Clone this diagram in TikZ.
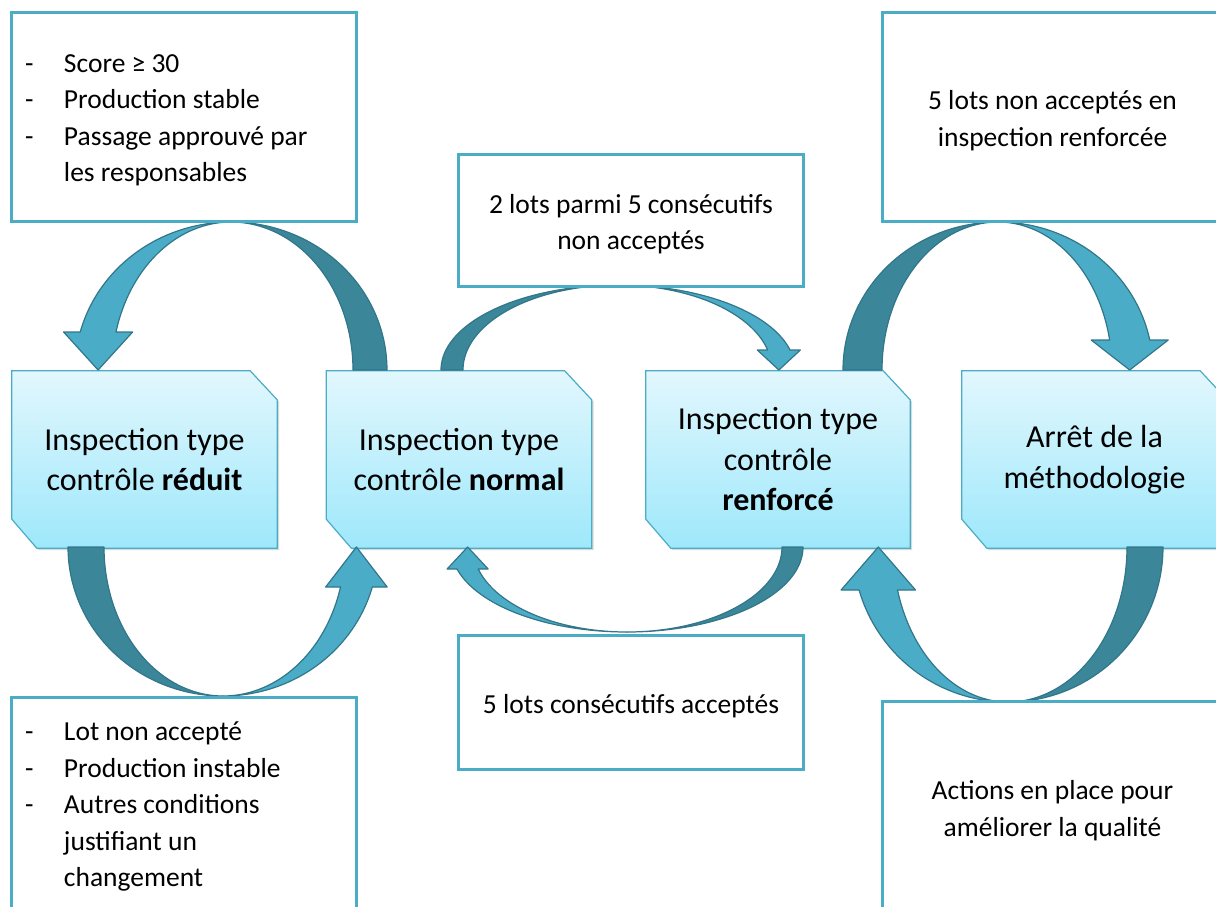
\documentclass[tikz,border=0pt]{standalone}
\usepackage{fontspec}
\setmainfont{Carlito}
\usetikzlibrary{backgrounds,shadows,calc}
\definecolor{acc}{RGB}{75,172,198}
\definecolor{arrlight}{RGB}{74,172,198}
\definecolor{arrdark}{RGB}{59,134,153}
\definecolor{arrline}{RGB}{50,118,138}
\definecolor{boxtop}{RGB}{226,247,253}
\definecolor{boxbot}{RGB}{158,232,251}
\tikzset{
  mainbox/.style={minimum width=265pt, minimum height=177pt, inner sep=0pt, align=center,
    font=\fontsize{32}{40.5}\selectfont},
  snipfill/.style={draw=acc, line width=1.2pt, top color=boxtop, bottom color=boxbot,
    drop shadow={shadow xshift=2pt, shadow yshift=-2pt, opacity=0.3}},
  tbox/.style={inner sep=0pt, align=center, font=\fontsize{27.5}{36.5}\selectfont},
  tboxline/.style={draw=acc, line width=3pt, fill=white},
  darkarr/.style={fill=arrdark, draw=arrline, line width=1.2pt, line join=round},
  lightarr/.style={fill=arrlight, draw=arrline, line width=1.2pt, line join=round},
}
\newcommand\snipbox[1]{%
  \path[snipfill] (#1.north west) -- ($(#1.north east)+(-27,0)$) -- ($(#1.north east)+(0,29)$)
    -- (#1.south east) -- ($(#1.south west)+(25,0)$) -- ($(#1.south west)+(0,-29)$) -- cycle;}
\newcommand\framebx[1]{%
  \path[tboxline] ([yshift=3.5pt]#1.north west) rectangle ([yshift=3.5pt]#1.south east);}
% cx cy ao b ad al s h yw
\newcommand\bandarrow[9]{%
  \pgfmathsetmacro\ArrTw{asin(abs(#9-#2)/#4)}%
  \pgfmathsetmacro\ArrXo{#1+#8*#3*cos(\ArrTw)}%
  \pgfmathsetmacro\ArrXi{#1+#8*#6*cos(\ArrTw)}%
  \pgfmathsetmacro\ArrExt{0.45*(#3-#6)}%
  \pgfmathsetmacro\ArrXwo{\ArrXo+#8*\ArrExt}%
  \pgfmathsetmacro\ArrXwi{\ArrXi-#8*\ArrExt}%
  \pgfmathsetmacro\ArrXt{(\ArrXo+\ArrXi)/2}%
  \filldraw[darkarr] plot[domain=0:90,samples=60] ({#1-#8*#3*cos(\x)},{#2-#7*#4*sin(\x)})
    -- plot[domain=90:0,samples=60] ({#1-#8*#5*cos(\x)},{#2-#7*#4*sin(\x)}) -- cycle;
  \filldraw[lightarr] plot[domain=90:\ArrTw,samples=60] ({#1+#8*#3*cos(\x)},{#2-#7*#4*sin(\x)})
    -- (\ArrXwo,#9) -- (\ArrXt,#2) -- (\ArrXwi,#9)
    -- plot[domain=\ArrTw:90,samples=60] ({#1+#8*#6*cos(\x)},{#2-#7*#4*sin(\x)}) -- cycle;}
\newcommand\dsh{\makebox[39pt][l]{-}}
\begin{document}
\begin{tikzpicture}[x=1pt,y=-1pt]
\useasboundingbox (0,0) rectangle (1216,906);
\clip (0,0) rectangle (1216,906);
% main boxes
\node[mainbox] (red) at (144.5,459.5) {Inspection type\\contrôle \textbf{réduit}};
\node[mainbox] (nor) at (459,459.5) {Inspection type\\contrôle \textbf{normal}};
\node[mainbox, minimum width=264pt] (ren) at (778,459.5) {Inspection type\\contrôle\\\textbf{renforcé}};
\node[mainbox] (arr) at (1094.5,459.5) {Arrêt de la\\méthodologie};
% text boxes (text shifted 3.5 below the frame centre)
\node[tbox, minimum width=344pt, minimum height=208pt, text width=318pt, align=flush left] (tl) at (184,120.5)
  {\dsh Score ≥ 30\\\dsh Production stable\\\dsh Passage approuvé par\\\hspace*{39pt}les responsables};
\node[tbox, minimum width=344pt, minimum height=131pt] (tm) at (631,224)
  {2 lots parmi 5 consécutifs\\non acceptés};
\node[tbox, minimum width=339pt, minimum height=208pt] (tr) at (1052.5,120.5)
  {5 lots non acceptés en\\inspection renforcée};
\node[tbox, minimum width=344pt, minimum height=133pt] (bm) at (631,706)
  {5 lots consécutifs acceptés};
\node[tbox, minimum width=344pt, minimum height=210pt, text width=318pt, align=flush left] (bl) at (184,806.5)
  {\dsh Lot non accepté\\\dsh Production instable\\\dsh Autres conditions\\\hspace*{39pt}justifiant un\\\hspace*{39pt}changement};
\node[tbox, minimum width=339pt, minimum height=210pt] (br) at (1052.5,810.5)
  {Actions en place pour\\améliorer la qualité};
\begin{scope}[on background layer]
  \snipbox{red}\snipbox{nor}\snipbox{ren}\snipbox{arr}
  \bandarrow{231}{370}{156}{148}{122}{119}{1}{-1}{332}
  \bandarrow{223}{547}{155}{149}{119}{122}{-1}{1}{587}
  \bandarrow{618}{370}{177}{85}{155}{154}{1}{1}{350}
  \bandarrow{627}{547}{176}{85}{155}{154}{-1}{-1}{569}
  \bandarrow{998}{370}{155}{148}{116}{114}{1}{1}{340}
  \bandarrow{1008}{547}{155}{155}{119}{115}{-1}{-1}{590}
  \framebx{tl}\framebx{tm}\framebx{tr}\framebx{bm}\framebx{bl}\framebx{br}
\end{scope}
\end{tikzpicture}
\end{document}
